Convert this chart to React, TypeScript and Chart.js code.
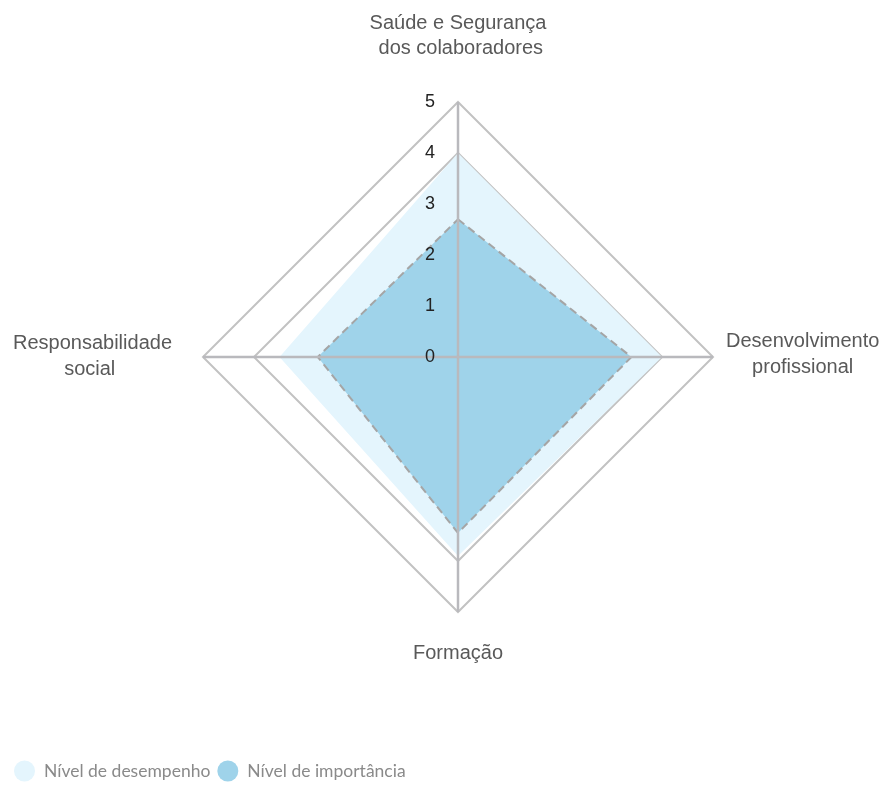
import React, { useEffect, useRef } from "react";
import { Chart, registerables } from "chart.js";

Chart.register(...registerables);

const categories: string[][] = [
  ["Saúde e Segurança", " dos colaboradores"],
  ["Desenvolvimento", "profissional"],
  ["Formação"],
  ["Responsabilidade", "social "],
];
const seriesNames = ["Nível de desempenho", "Nível de importância"];
const desempenho = [4, 4, 3.9, 3.5];
const importancia = [2.7, 3.4, 3.45, 2.75];
const tickValues = [0, 1, 2, 3, 4, 5];

const overlayPlugin = {
  id: "overlay",
  afterDatasetsDraw(chart: any) {
    const ctx = chart.ctx as CanvasRenderingContext2D;
    const r = chart.scales.r as any;
    const n = chart.data.labels.length;
    ctx.save();

    // angle lines over the fills
    ctx.strokeStyle = "#b9b9bd";
    ctx.lineWidth = 2.5;
    for (let i = 0; i < n; i++) {
      const p = r.getPointPosition(i, r.drawingArea);
      ctx.beginPath();
      ctx.moveTo(r.xCenter, r.yCenter);
      ctx.lineTo(p.x, p.y);
      ctx.stroke();
    }

    // tick labels
    ctx.font = "18px 'Liberation Sans', Arial, sans-serif";
    ctx.fillStyle = "#222222";
    ctx.textAlign = "center";
    ctx.textBaseline = "middle";
    tickValues.forEach((v) => {
      const d = r.getDistanceFromCenterForValue(v);
      ctx.fillText(String(v), r.xCenter - 28, r.yCenter - d);
    });

    // point labels
    ctx.font = "20px 'Liberation Sans', Arial, sans-serif";
    ctx.fillStyle = "#595959";
    ctx.textBaseline = "alphabetic";
    ctx.textAlign = "center";
    const lh = 25.5;
    for (let i = 0; i < n; i++) {
      const lines: string[] = chart.data.labels[i];
      const p = r.getPointPosition(i, r.drawingArea);
      const w = Math.max(...lines.map((l) => ctx.measureText(l).width));
      const dx = p.x - r.xCenter;
      const dy = p.y - r.yCenter;
      let cx: number;
      let first: number;
      if (Math.abs(dx) < 1) {
        cx = p.x;
        first = dy < 0 ? p.y - 48 - (lines.length - 1) * lh : p.y + 47;
      } else if (dx > 0) {
        cx = p.x + 13 + w / 2;
        first = p.y - 10;
      } else {
        cx = p.x - 31 - w / 2;
        first = p.y - 8;
      }
      lines.forEach((l, k) => ctx.fillText(l, cx, first + k * lh));
    }

    // legend
    ctx.font = "17.5px Lato, 'Open Sans', sans-serif";
    ctx.textAlign = "left";
    ctx.textBaseline = "middle";
    let x = 14;
    const y = 771;
    chart.data.datasets.forEach((ds: any) => {
      ctx.fillStyle = ds.backgroundColor;
      ctx.beginPath();
      ctx.arc(x + 10.5, y, 10.5, 0, Math.PI * 2);
      ctx.fill();
      ctx.fillStyle = "#8a8a8a";
      ctx.fillText(ds.label, x + 30, y);
      x += 30 + ctx.measureText(ds.label).width + 7;
    });

    ctx.restore();
  },
};

export default function App() {
  const ref = useRef<HTMLCanvasElement | null>(null);
  useEffect(() => {
    if (!ref.current) return;
    const chart = new Chart(ref.current, {
      type: "radar",
      data: {
        labels: categories as any,
        datasets: [
          {
            label: seriesNames[0],
            data: desempenho,
            backgroundColor: "#e4f5fd",
            borderColor: "rgba(0,0,0,0)",
            borderWidth: 0,
            pointRadius: 0,
            pointHoverRadius: 0,
            fill: true,
            order: 2,
          },
          {
            label: seriesNames[1],
            data: importancia,
            backgroundColor: "#9fd3ea",
            borderColor: "#a5a5a5",
            borderWidth: 2,
            borderDash: [8, 5],
            pointRadius: 0,
            pointHoverRadius: 0,
            fill: true,
            order: 1,
          },
        ],
      },
      options: {
        responsive: false,
        animation: false,
        layout: { padding: { left: 203, right: 170, top: 102, bottom: 177 } },
        plugins: {
          legend: { display: false },
          tooltip: { enabled: false },
        },
        scales: {
          r: {
            min: 0,
            max: 5,
            ticks: { display: false, stepSize: 1 },
            pointLabels: { display: false },
            angleLines: { display: false },
            grid: { color: "#c2c2c2", lineWidth: 2 },
          },
        },
      } as any,
      plugins: [overlayPlugin],
    });
    return () => chart.destroy();
  }, []);
  return (
    <div style={{ position: "fixed", left: 0, top: 0, width: 883, height: 789, background: "#fff" }}>
      <canvas ref={ref} width={883} height={789} style={{ display: "block" }} />
    </div>
  );
}
